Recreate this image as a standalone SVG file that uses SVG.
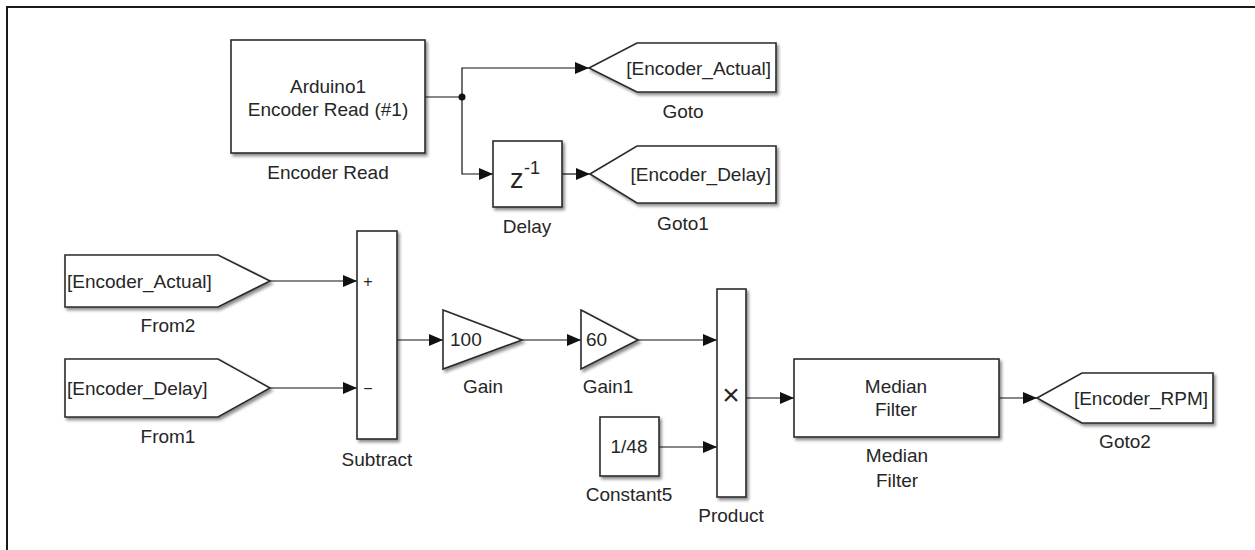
<svg xmlns="http://www.w3.org/2000/svg" width="1255" height="550" viewBox="0 0 1255 550">
  <defs>
    <filter id="shadow" x="-10%" y="-10%" width="130%" height="130%">
      <feDropShadow dx="2" dy="2.5" stdDeviation="1.6" flood-color="#000" flood-opacity="0.45"/>
    </filter>
    <marker id="arrow" viewBox="0 0 14 12" refX="14" refY="6" markerWidth="14" markerHeight="12" markerUnits="userSpaceOnUse" orient="auto">
      <path d="M0,0 L14,6 L0,12 Z" fill="#111"/>
    </marker>
  </defs>
  <style>
    .blk { fill: #fff; stroke: #2a2a2a; stroke-width: 1.6; filter: url(#shadow); }
    .wire { fill: none; stroke: #111; stroke-width: 1.2; marker-end: url(#arrow); }
    .t { font-family: "Liberation Sans", Arial, Helvetica, sans-serif; font-size: 19px; fill: #262626; }
    .c { text-anchor: middle; }
    .e { text-anchor: end; }
    .t.sm { font-size: 16px; }
    .t.zed { font-size: 27px; }
    .t.sup { font-size: 18px; }
    .t.mul { font-size: 30px; }
  </style>

  <rect width="1255" height="550" fill="#fff"/>
  <!-- canvas frame (top and left edges) -->
  <path d="M7,550 L7,7 L1255,7" fill="none" stroke="#1a1a1a" stroke-width="2"/>

  <!-- signal lines -->
  <g id="connectors">
    <path class="wire" d="M425,97 L462,97 L462,68 L589,68"/>
    <path class="wire" d="M462,97 L462,174 L493,174"/>
    <circle cx="462" cy="97" r="3.5" fill="#111"/>
    <path class="wire" d="M562,174 L590,174"/>
    <path class="wire" d="M270,281 L357,281"/>
    <path class="wire" d="M270,388 L357,388"/>
    <path class="wire" d="M397,340 L443,340"/>
    <path class="wire" d="M522,340 L581,340"/>
    <path class="wire" d="M638,340 L717,340"/>
    <path class="wire" d="M659,447 L717,447"/>
    <path class="wire" d="M746,398 L794,398"/>
    <path class="wire" d="M999,398 L1037,398"/>
  </g>

  <g id="encoder-read">
    <rect class="blk" x="231" y="40" width="194" height="113"/>
    <text class="t c" x="328" y="93">Arduino1</text>
    <text class="t c" x="328" y="116">Encoder Read (#1)</text>
    <text class="t c" x="328" y="179">Encoder Read</text>
  </g>

  <g id="goto">
    <path class="blk" d="M589,68 L637,43 L776,43 L776,92 L637,92 Z"/>
    <text class="t e" x="771" y="75">[Encoder_Actual]</text>
    <text class="t c" x="683" y="118">Goto</text>
  </g>

  <g id="delay">
    <rect class="blk" x="493" y="141" width="69" height="66"/>
    <text class="t zed" x="510" y="188">z</text>
    <text class="t sup" x="524" y="174">-1</text>
    <text class="t c" x="527" y="233">Delay</text>
  </g>

  <g id="goto1">
    <path class="blk" d="M590,174 L637,146 L776,146 L776,203 L637,203 Z"/>
    <text class="t e" x="771" y="181">[Encoder_Delay]</text>
    <text class="t c" x="683" y="230">Goto1</text>
  </g>

  <g id="from2">
    <path class="blk" d="M65,255 L218,255 L270,281 L218,307 L65,307 Z"/>
    <text class="t" x="67" y="288">[Encoder_Actual]</text>
    <text class="t c" x="168" y="332">From2</text>
  </g>

  <g id="from1">
    <path class="blk" d="M65,359 L218,359 L270,388 L218,417 L65,417 Z"/>
    <text class="t" x="67" y="395">[Encoder_Delay]</text>
    <text class="t c" x="168" y="443">From1</text>
  </g>

  <g id="subtract">
    <rect class="blk" x="357" y="231" width="40" height="208"/>
    <text class="t c sm" x="368" y="287">+</text>
    <text class="t c sm" x="368" y="394">−</text>
    <text class="t c" x="377" y="466">Subtract</text>
  </g>

  <g id="gain">
    <path class="blk" d="M443,310 L522,340 L443,369 Z"/>
    <text class="t" x="450" y="346">100</text>
    <text class="t c" x="483" y="393">Gain</text>
  </g>

  <g id="gain1">
    <path class="blk" d="M581,310 L638,340 L581,369 Z"/>
    <text class="t" x="586" y="346">60</text>
    <text class="t c" x="608" y="393">Gain1</text>
  </g>

  <g id="constant5">
    <rect class="blk" x="600" y="417" width="59" height="59"/>
    <text class="t c" x="629" y="453">1/48</text>
    <text class="t c" x="629" y="501">Constant5</text>
  </g>

  <g id="product">
    <rect class="blk" x="717" y="289" width="29" height="208"/>
    <text class="t c mul" x="731" y="405">×</text>
    <text class="t c" x="731" y="522">Product</text>
  </g>

  <g id="median-filter">
    <rect class="blk" x="794" y="359" width="205" height="78"/>
    <text class="t c" x="896" y="393">Median</text>
    <text class="t c" x="896" y="416">Filter</text>
    <text class="t c" x="897" y="462">Median</text>
    <text class="t c" x="897" y="487">Filter</text>
  </g>

  <g id="goto2">
    <path class="blk" d="M1037,398 L1082,373 L1213,373 L1213,423 L1082,423 Z"/>
    <text class="t e" x="1208" y="405">[Encoder_RPM]</text>
    <text class="t c" x="1125" y="448">Goto2</text>
  </g>
</svg>
